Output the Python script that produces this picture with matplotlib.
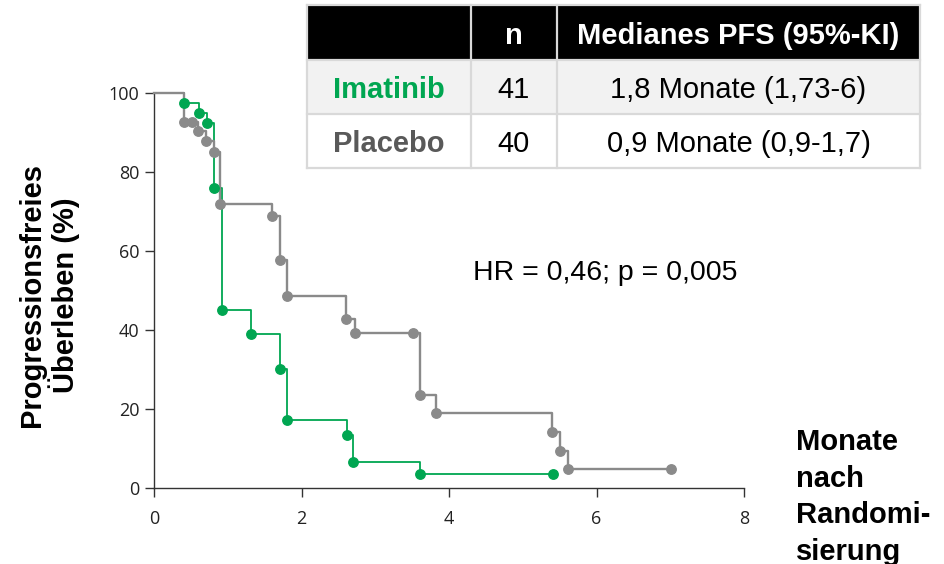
import matplotlib
matplotlib.use('Agg')
import matplotlib.pyplot as plt
from matplotlib.patches import Rectangle

# Kaplan-Meier Daten (Monate, PFS %)
imatinib_t = [0, 0.41, 0.61, 0.72, 0.81, 0.92, 1.31, 1.71, 1.80, 2.62, 2.70, 3.61, 5.41]
imatinib_s = [100, 97.4, 94.9, 92.3, 76.0, 45.1, 39.1, 30.1, 17.2, 13.5, 6.7, 3.5, 3.5]

placebo_t = [0, 0.40, 0.51, 0.60, 0.71, 0.81, 0.89, 1.60, 1.71, 1.81, 2.61, 2.72, 3.51,
             3.61, 3.82, 5.40, 5.51, 5.61, 7.01]
placebo_s = [100, 92.7, 92.7, 90.5, 87.8, 85.1, 71.9, 68.9, 57.6, 48.6, 42.7, 39.3, 39.3,
             23.6, 19.0, 14.3, 9.4, 4.9, 4.9]

x_ticks = [0, 2, 4, 6, 8]
y_ticks = [0, 20, 40, 60, 80, 100]

# Tabelle
table_header = ['', 'n', 'Medianes PFS (95%-KI)']
table_groups = ['Imatinib', 'Placebo']
table_n = ['41', '40']
table_median = ['1,8 Monate (1,73-6)', '0,9 Monate (0,9-1,7)']

green = '#00a651'
grey = '#8a8a8a'
W, H = 944, 564


def px(x, y):
    return x / W, 1 - y / H


fig = plt.figure(figsize=(W / 100, H / 100), dpi=100)
ax = fig.add_axes([154 / W, (H - 488) / H, 590 / W, 395 / H])

ax.plot(imatinib_t, imatinib_s, drawstyle='steps-post', color=green, lw=1.3, zorder=2, clip_on=False)
ax.plot(placebo_t, placebo_s, drawstyle='steps-post', color=grey, lw=1.7, zorder=3, clip_on=False)
ax.plot(placebo_t[1:], placebo_s[1:], 'o', color=grey, ms=6.8, zorder=4, clip_on=False)
ax.plot(imatinib_t[1:], imatinib_s[1:], 'o', color=green, ms=6.8, zorder=5, clip_on=False)

ax.set_xlim(0, 8)
ax.set_ylim(0, 100)
ax.set_xticks(x_ticks)
ax.set_yticks(y_ticks)
for s in ['top', 'right']:
    ax.spines[s].set_visible(False)
for s in ['left', 'bottom']:
    ax.spines[s].set_color('#333333')
    ax.spines[s].set_linewidth(1.0)
ax.tick_params(length=6.5, width=1.0, color='#333333', labelsize=13, pad=4)
ax.tick_params(axis='x', pad=9)
for lab in ax.get_xticklabels() + ax.get_yticklabels():
    lab.set_fontfamily('Open Sans')
    lab.set_color('#222222')

# Achsentitel
fig.text(*px(49, 295), 'Progressionsfreies\nÜberleben (%)', rotation=90, ha='center', va='center',
         fontsize=21, fontweight='bold', family='Liberation Sans', linespacing=1.05)
fig.text(*px(796, 497), 'Monate\nnach\nRandomi-\nsierung', ha='left', va='center',
         fontsize=21, fontweight='bold', family='Liberation Sans', linespacing=1.38)

fig.text(*px(605, 273), 'HR = 0,46; p = 0,005', ha='center', va='center',
         fontsize=20.5, family='Liberation Sans')

# Tabelle zeichnen
cols = [307, 471, 557, 920]
rows = [5, 60, 114, 168]
fills = ['black', '#f2f2f2', 'white']
for r in range(3):
    x0, y0 = px(cols[0], rows[r + 1])
    fig.add_artist(Rectangle((x0, y0), (cols[3] - cols[0]) / W, (rows[r + 1] - rows[r]) / H,
                             transform=fig.transFigure, facecolor=fills[r], edgecolor='none', zorder=1))
for c in cols:
    fig.add_artist(plt.Line2D([c / W, c / W], [1 - rows[0] / H, 1 - rows[3] / H],
                              transform=fig.transFigure, color='#d9d9d9', lw=1.6, zorder=2))
for r in rows:
    fig.add_artist(plt.Line2D([cols[0] / W, cols[3] / W], [1 - r / H, 1 - r / H],
                              transform=fig.transFigure, color='#d9d9d9', lw=1.6, zorder=2))

centers = [(cols[i] + cols[i + 1]) / 2 for i in range(3)]
row_mid = [(rows[i] + rows[i + 1]) / 2 + 3 for i in range(3)]
for i, txt in enumerate(table_header):
    fig.text(*px(centers[i], row_mid[0]), txt, ha='center', va='center', color='white',
             fontsize=21, fontweight='bold', family='Liberation Sans', zorder=3)
group_colors = [green, '#595959']
for r in range(2):
    y = row_mid[r + 1]
    fig.text(*px(centers[0], y), table_groups[r], ha='center', va='center', color=group_colors[r],
             fontsize=21, fontweight='bold', family='Liberation Sans', zorder=3)
    fig.text(*px(centers[1], y), table_n[r], ha='center', va='center', color='black',
             fontsize=21, family='Liberation Sans', zorder=3)
    fig.text(*px(centers[2], y), table_median[r], ha='center', va='center', color='black',
             fontsize=21, family='Liberation Sans', zorder=3)

fig.savefig('out.png', dpi=100)
